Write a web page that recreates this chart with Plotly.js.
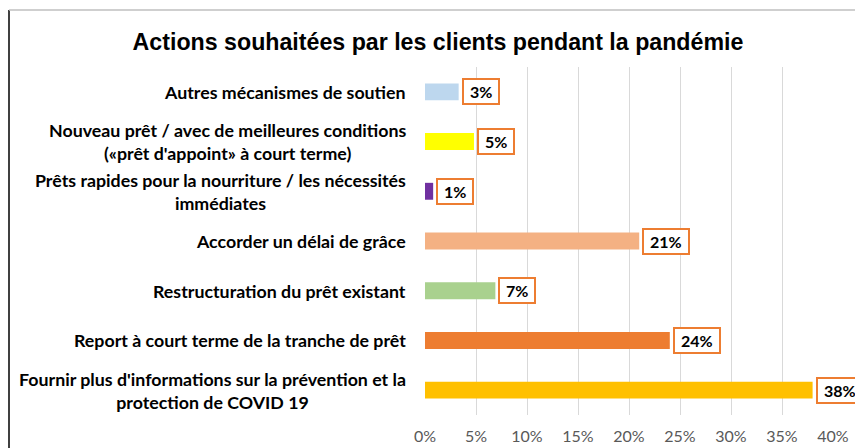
<!DOCTYPE html>
<html>
<head>
<meta charset="utf-8">
<script src="https://cdn.plot.ly/plotly-3.0.1.min.js"></script>
<style>html,body{margin:0;padding:0;background:#fff;}#chart{width:855px;height:448px;}</style>
</head>
<body>
<div id="chart"></div>
<script>
var categories = [
  "Autres mécanismes de soutien",
  "Nouveau prêt / avec de meilleures conditions<br>(«prêt d'appoint» à court terme)",
  "Prêts rapides pour la nourriture / les nécessités<br>immédiates",
  "Accorder un délai de grâce",
  "Restructuration du prêt existant",
  "Report à court terme de la tranche de prêt",
  "Fournir plus d'informations sur la prévention et la<br>protection de COVID 19"
];
var values = [0.033, 0.048, 0.008, 0.21, 0.069, 0.24, 0.38];
var valueLabels = ["3%", "5%", "1%", "21%", "7%", "24%", "38%"];
var barColors = ["#BDD7EE", "#FFFF00", "#7030A0", "#F4B183", "#A9D18E", "#ED7D31", "#FFC000"];
var tickVals = [0, 0.05, 0.10, 0.15, 0.20, 0.25, 0.30, 0.35, 0.40];
var tickText = ["0%", "5%", "10%", "15%", "20%", "25%", "30%", "35%", "40%"];

var labelFont = "Lato, 'Open Sans', sans-serif";

var trace = {
  type: "bar",
  orientation: "h",
  x: values,
  y: categories,
  marker: {color: barColors},
  hoverinfo: "none"
};

var annotations = [];
for (var i = 0; i < categories.length; i++) {
  annotations.push({
    xref: "paper", yref: "y",
    x: 0, y: categories[i],
    xanchor: "right", yanchor: "middle",
    xshift: -17,
    align: "center",
    text: categories[i],
    showarrow: false,
    font: {family: labelFont, size: 17.8, color: "#000", weight: "bold"}
  });
  annotations.push({
    xref: "x", yref: "y",
    x: values[i], y: categories[i],
    xanchor: "left", yanchor: "middle",
    xshift: 3,
    text: "\u2005" + valueLabels[i] + "\u2005",
    showarrow: false,
    bgcolor: "#ffffff",
    bordercolor: "#ED7D31",
    borderwidth: 2,
    borderpad: 2,
    font: {family: labelFont, size: 16, color: "#000", weight: "bold"}
  });
}

var layout = {
  width: 855, height: 448,
  margin: {l: 425, r: 22, t: 67, b: 33},
  paper_bgcolor: "#ffffff",
  plot_bgcolor: "#ffffff",
  showlegend: false,
  bargap: 0.66,
  title: {
    text: "Actions souhaitées par les clients pendant la pandémie",
    font: {family: "'Liberation Sans', Arial, sans-serif", size: 23.2, color: "#000", weight: "bold"},
    x: 438 / 855, xref: "container", xanchor: "center",
    y: 1 - 42 / 448, yref: "container", yanchor: "middle"
  },
  xaxis: {
    range: [0, 0.40],
    tickvals: tickVals,
    ticktext: tickText,
    showgrid: true,
    gridcolor: "#D9D9D9",
    gridwidth: 1,
    zeroline: false,
    showline: false,
    ticks: "",
    ticklabelstandoff: 10,
    tickfont: {family: labelFont, size: 16, color: "#595959"},
    fixedrange: true
  },
  yaxis: {
    type: "category",
    autorange: "reversed",
    showticklabels: false,
    showgrid: false,
    zeroline: false,
    showline: false,
    ticks: "",
    fixedrange: true
  },
  annotations: annotations,
  shapes: [
    {type: "line", xref: "paper", yref: "paper", x0: (9 - 425) / 408, x1: (9 - 425) / 408, y0: (415 - 448) / 348, y1: (415 - 10) / 348, line: {color: "#000000", width: 1.5}},
    {type: "line", xref: "paper", yref: "paper", x0: (9 - 425) / 408, x1: (855 - 425) / 408, y0: (415 - 10) / 348, y1: (415 - 10) / 348, line: {color: "#BFBFBF", width: 1.5}}
  ]
};

Plotly.newPlot("chart", [trace], layout, {displayModeBar: false, staticPlot: true});
</script>
</body>
</html>
